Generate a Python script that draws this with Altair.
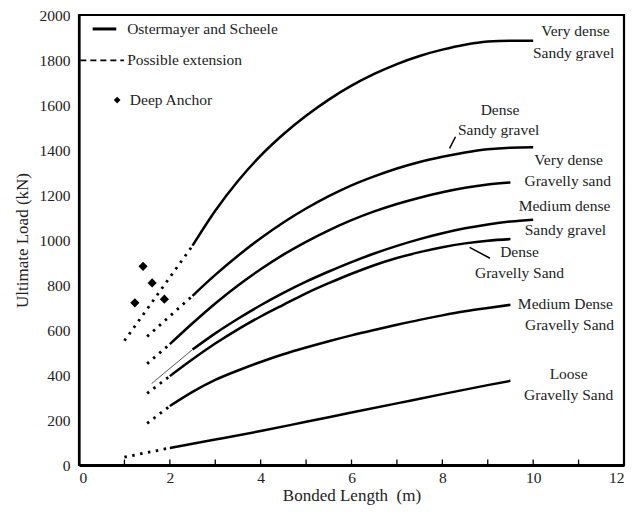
import altair as alt
import pandas as pd

FONT = "Liberation Serif"

# ---- curves (x = bonded length m, y = ultimate load kN) ----
names = [
    "Very dense Sandy gravel",
    "Dense Sandy gravel",
    "Very dense Gravelly sand",
    "Medium dense Sandy gravel",
    "Dense Gravelly Sand",
    "Medium Dense Gravelly Sand",
    "Loose Gravelly Sand",
]

solid_x = [
    [2.5, 3.0, 3.5, 4.0, 4.5, 5.0, 5.5, 6.0, 6.5, 7.0, 7.5, 8.0, 8.5, 9.0, 9.5, 10.0],
    [2.5, 3.0, 3.5, 4.0, 4.5, 5.0, 5.5, 6.0, 6.5, 7.0, 7.5, 8.0, 8.5, 9.0, 9.5, 10.0],
    [2.0, 2.5, 3.0, 3.5, 4.0, 4.5, 5.0, 5.5, 6.0, 6.5, 7.0, 7.5, 8.0, 8.5, 9.0, 9.5],
    [2.5, 3.0, 3.5, 4.0, 4.5, 5.0, 5.5, 6.0, 6.5, 7.0, 7.5, 8.0, 8.5, 9.0, 9.5, 10.0],
    [2.0, 2.5, 3.0, 3.5, 4.0, 4.5, 5.0, 5.5, 6.0, 6.5, 7.0, 7.5, 8.0, 8.5, 9.0, 9.5],
    [2.0, 2.5, 3.0, 3.5, 4.0, 4.5, 5.0, 5.5, 6.0, 6.5, 7.0, 7.5, 8.0, 8.5, 9.0, 9.5],
    [2.0, 3.0, 4.0, 5.0, 6.0, 7.0, 8.0, 9.0, 9.5],
]
solid_y = [
    [975, 1130, 1262, 1375, 1470, 1552, 1624, 1686, 1738, 1782, 1818, 1846, 1868, 1882, 1886, 1886],
    [752, 845, 930, 1008, 1078, 1140, 1195, 1243, 1283, 1318, 1347, 1370, 1389, 1403, 1410, 1412],
    [537, 630, 718, 798, 870, 935, 992, 1043, 1088, 1127, 1160, 1188, 1212, 1232, 1247, 1256],
    [513, 585, 650, 710, 765, 815, 860, 902, 940, 974, 1004, 1030, 1052, 1069, 1082, 1090],
    [395, 470, 540, 603, 660, 712, 763, 808, 850, 888, 920, 946, 968, 985, 997, 1004],
    [262, 325, 378, 420, 458, 492, 522, 550, 576, 600, 623, 645, 665, 683, 698, 712],
    [76, 113, 151, 192, 233, 274, 315, 355, 374],
]
# "possible extension" segments
ext_x = [[1.0, 2.5], [1.5, 2.5], [1.5, 2.0], [1.6, 2.5], [1.5, 2.0], [1.5, 2.0], [1.0, 2.0]]
ext_y = [[552, 975], [571, 752], [450, 537], [362, 513], [318, 395], [185, 262], [35, 76]]
ext_style = ["dotted", "dotted", "dotted", "thin", "dotted", "dotted", "dotted"]

# deep anchor points
anchor_x = [1.23, 1.41, 1.61, 1.88]
anchor_y = [721, 883, 809, 737]

# curve labels
label_text = ["Very dense", "Sandy gravel", "Dense", "Sandy gravel", "Very dense", "Gravelly sand",
              "Medium dense", "Sandy gravel", "Dense", "Gravelly Sand", "Medium Dense", "Gravelly Sand",
              "Loose", "Gravelly Sand"]
label_x = [10.93, 10.89, 9.27, 9.24, 10.78, 10.76, 10.69, 10.71, 9.70, 9.70, 10.71, 10.80, 10.78, 10.78]
label_y = [1930, 1833, 1578, 1490, 1354, 1262, 1152, 1046, 945, 853, 716, 624, 404, 312]

# leader lines (label -> curve)
lead_x = [8.16, 8.60]
lead_y = [1407, 967]
lead_x2 = [8.29, 9.05]
lead_y2 = [1459, 919]

x_ticks = [0, 2, 4, 6, 8, 10, 12]
x_minor = [1, 2, 3, 4, 5, 6, 7, 8, 9, 10, 11]
y_ticks = [0, 200, 400, 600, 800, 1000, 1200, 1400, 1600, 1800, 2000]

# legend
leg_text = ["Ostermayer and Scheele", "Possible extension", "Deep Anchor"]
leg_text_x = [1.06, 1.06, 1.12]
leg_text_y = [1938, 1798, 1622]

rows = []
for i, n in enumerate(names):
    for j, (a, b) in enumerate(zip(solid_x[i], solid_y[i])):
        rows.append({"series": n, "seg": "solid", "i": j, "x": a, "y": b})
    for j, (a, b) in enumerate(zip(ext_x[i], ext_y[i])):
        rows.append({"series": n, "seg": ext_style[i], "i": j, "x": a, "y": b})
df = pd.DataFrame(rows)

xs = alt.Scale(domain=[0, 12], nice=False)
ys = alt.Scale(domain=[0, 2000], nice=False)

X = alt.X("x:Q", scale=xs, axis=alt.Axis(values=x_ticks, format="d", title="Bonded Length\u00a0 (m)"))
Y = alt.Y("y:Q", scale=ys, axis=alt.Axis(values=y_ticks, format="d", title="Ultimate Load (kN)"))

base = alt.Chart(df)

solid = base.transform_filter(alt.datum.seg == "solid").mark_line(
    color="black", strokeWidth=2.5, interpolate="monotone"
).encode(x=X, y=Y, detail="series:N", order="i:Q")

dotted = base.transform_filter(alt.datum.seg == "dotted").mark_line(
    color="black", strokeWidth=2.8, strokeDash=[2.5, 5.5]
).encode(x="x:Q", y="y:Q", detail="series:N", order="i:Q")

thin = base.transform_filter(alt.datum.seg == "thin").mark_line(
    color="#555555", strokeWidth=1
).encode(x="x:Q", y="y:Q", detail="series:N", order="i:Q")

anchors = alt.Chart(pd.DataFrame({"x": anchor_x, "y": anchor_y})).mark_point(
    shape="diamond", filled=True, color="black", size=85, opacity=1
).encode(x="x:Q", y="y:Q")

minor = alt.Chart(pd.DataFrame({"x": x_minor})).mark_rule(color="black", strokeWidth=1.3).encode(
    x="x:Q", y=alt.datum(0), y2=alt.datum(24)
)

labels = alt.Chart(pd.DataFrame({"x": label_x, "y": label_y, "t": label_text})).mark_text(
    font=FONT, fontSize=15.5, color="#222222", align="center", baseline="middle"
).encode(x="x:Q", y="y:Q", text="t:N")

leaders = alt.Chart(pd.DataFrame({"x": lead_x, "y": lead_y, "x2": lead_x2, "y2": lead_y2})).mark_rule(
    color="black", strokeWidth=1.5
).encode(x="x:Q", y="y:Q", x2="x2:Q", y2="y2:Q")

leg_txt = alt.Chart(pd.DataFrame({"x": leg_text_x, "y": leg_text_y, "t": leg_text})).mark_text(
    font=FONT, fontSize=15.5, color="#222222", align="left", baseline="middle"
).encode(x="x:Q", y="y:Q", text="t:N")

leg_solid = alt.Chart(pd.DataFrame({"x": [0.30], "x2": [0.82], "y": [1938]})).mark_rule(
    color="black", strokeWidth=3
).encode(x="x:Q", x2="x2:Q", y="y:Q")

leg_dash = alt.Chart(pd.DataFrame({"x": [0.03], "x2": [0.99], "y": [1798]})).mark_rule(
    color="black", strokeWidth=1.8, strokeDash=[6, 4]
).encode(x="x:Q", x2="x2:Q", y="y:Q")

leg_diam = alt.Chart(pd.DataFrame({"x": [0.84], "y": [1622]})).mark_point(
    shape="diamond", filled=True, color="black", size=45, opacity=1
).encode(x="x:Q", y="y:Q")

chart = alt.layer(
    solid, dotted, thin, anchors, minor, labels, leaders, leg_txt, leg_solid, leg_dash, leg_diam
).properties(
    width=545,
    height=450,
    autosize=alt.AutoSizeParams(type="none"),
    padding={"left": 71, "top": 7, "right": 9, "bottom": 42},
).configure_view(
    stroke="black", strokeWidth=2.2
).configure_axis(
    labelFont=FONT, labelFontSize=15.5, labelColor="#222222",
    titleFont=FONT, titleFontSize=17, titleFontWeight="normal", titleColor="#222222",
    grid=False, ticks=False, tickSize=0, domainColor="black",
).configure_axisX(
    labelPadding=5, titlePadding=2, domainWidth=3,
).configure_axisY(
    labelPadding=9, titlePadding=8, domainWidth=2.2,
)

chart.save("out.html", embed_options={"renderer": "svg", "actions": False})
